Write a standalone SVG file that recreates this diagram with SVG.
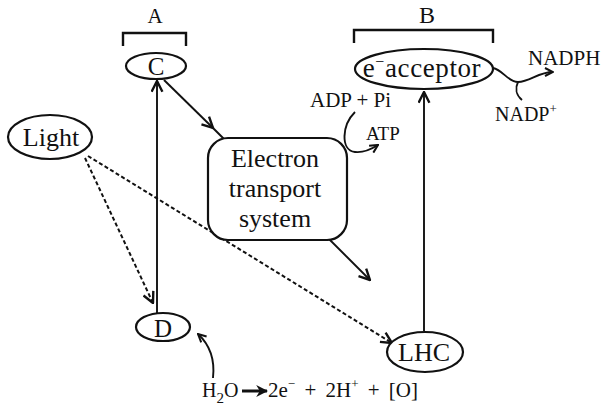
<svg xmlns="http://www.w3.org/2000/svg" width="604" height="418" viewBox="0 0 604 418">
<style>
text{font-family:'Liberation Serif','Tinos','DejaVu Serif','Times New Roman',serif;fill:#111}
.n{fill:#fff;stroke:#111;stroke-width:2.2}
.c{fill:none;stroke:#111;stroke-width:1.9}
.d{fill:none;stroke:#111;stroke-width:2;stroke-dasharray:4 2.5}
.br{fill:none;stroke:#111;stroke-width:2.4}
</style>
<defs>
<marker id="arr" viewBox="0 0 12 12" refX="11" refY="6" markerWidth="13" markerHeight="13" markerUnits="userSpaceOnUse" orient="auto">
<path d="M1,1 L11,6 L1,11" fill="none" stroke="#111" stroke-width="2.2"/>
</marker>
<marker id="sarr" viewBox="0 0 10 10" refX="9" refY="5" markerWidth="10" markerHeight="10" markerUnits="userSpaceOnUse" orient="auto">
<path d="M1,1 L9,5 L1,9" fill="none" stroke="#111" stroke-width="2"/>
</marker>
<marker id="thick" viewBox="0 0 10 10" refX="9" refY="5" markerWidth="12" markerHeight="12" markerUnits="userSpaceOnUse" orient="auto">
<path d="M0,0 L10,5 L0,10 L3,5 Z" fill="#111"/>
</marker>
</defs>

<g id="connectors">
<path class="c" d="M157,313 L157,81" marker-end="url(#arr)"/>
<path class="c" d="M164,80 L213,128" marker-end="url(#arr)"/>
<path class="c" d="M212,127 L224,139"/>
<path class="c" d="M328,238 L370,280" marker-end="url(#arr)"/>
<path class="c" d="M424,331 L424,92" marker-end="url(#arr)"/>
<path class="d" d="M85,158 L153,303" marker-end="url(#arr)"/>
<path class="d" d="M88,156 L392,343" marker-end="url(#arr)"/>
<path class="c" d="M213,378 C215,360 210,345 198,334" marker-end="url(#sarr)"/>
<path class="c" d="M355,112 C342,125 340,150 355,152 C363,153 370,150 378,145" marker-end="url(#sarr)"/>
<path class="c" d="M493,68 C503,70 508,82 518,82 C530,82 538,72 553,72" marker-end="url(#sarr)"/>
<path class="c" d="M522,100 C516,95 515,88 518,82"/>
<path fill="none" stroke="#111" stroke-width="3" d="M242,391 L267,391" marker-end="url(#thick)"/>
</g>

<g id="A">
<path class="br" d="M123,46 L123,33 L186,33 L186,46"/>
<text x="155" y="23" font-size="21" text-anchor="middle">A</text>
</g>
<g id="B">
<path class="br" d="M354,43 L354,30 L493,30 L493,43"/>
<text x="427" y="23" font-size="24" text-anchor="middle">B</text>
</g>

<g id="C">
<ellipse class="n" cx="156" cy="66" rx="30" ry="13"/>
<text x="156" y="75" font-size="25" text-anchor="middle">C</text>
</g>
<g id="D">
<ellipse class="n" cx="163" cy="327" rx="27" ry="14"/>
<text x="163" y="337" font-size="25" text-anchor="middle">D</text>
</g>
<g id="Light">
<ellipse class="n" cx="50" cy="137" rx="42" ry="22"/>
<text x="51" y="146" font-size="26" text-anchor="middle">Light</text>
</g>
<g id="LHC">
<ellipse class="n" cx="425" cy="352" rx="38" ry="20"/>
<text x="424" y="361" font-size="26" text-anchor="middle">LHC</text>
</g>
<g id="ETS">
<rect class="n" x="208" y="138" width="139" height="102" rx="20" ry="20"/>
<text x="275" y="167" font-size="26" text-anchor="middle">Electron</text>
<text x="275" y="197" font-size="26" text-anchor="middle">transport</text>
<text x="275" y="227" font-size="26" text-anchor="middle">system</text>
</g>
<g id="acceptor">
<ellipse class="n" cx="424" cy="69" rx="69" ry="20"/>
<text x="422" y="77" font-size="27" letter-spacing="0.6" text-anchor="middle">e<tspan font-size="16" dy="-10">−</tspan><tspan dy="10">acceptor</tspan></text>
</g>
<g id="NADPH">
<text x="528" y="65" font-size="21">NADPH</text>
</g>
<g id="NADP">
<text x="495" y="121" font-size="20">NADP<tspan font-size="13" dy="-8">+</tspan></text>
</g>
<g id="ADP">
<text x="310" y="107" font-size="21">ADP + Pi</text>
</g>
<g id="ATP">
<text x="366" y="140" font-size="19">ATP</text>
</g>
<g id="water">
<text x="202" y="397" font-size="20">H<tspan font-size="15" dy="6">2</tspan><tspan dy="-6">O</tspan></text>
<text x="268" y="397" font-size="21" word-spacing="4">2e<tspan font-size="13" dy="-9">−</tspan><tspan dy="9"> + 2H</tspan><tspan font-size="13" dy="-9">+</tspan><tspan dy="9"> + [O]</tspan></text>
</g>
</svg>
